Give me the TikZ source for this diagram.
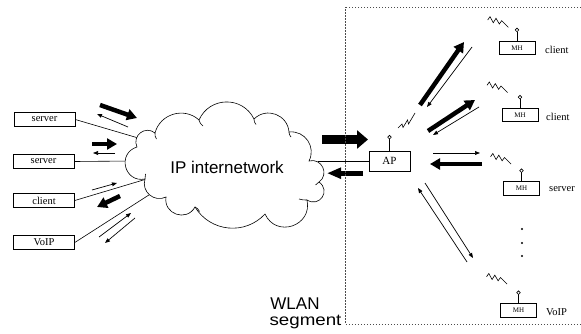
\documentclass[tikz,border=0pt]{standalone}
\usepackage{fontspec}
\setmainfont{Liberation Serif}
\newfontfamily\sansf{Liberation Sans}
\usetikzlibrary{arrows.meta}
\begin{document}
\begin{tikzpicture}[x=1pt,y=1pt,
  lbox/.style={draw,line width=0.6pt,fill=white,minimum width=61pt,minimum height=14pt,inner sep=0pt,font=\fontsize{10.5}{12}\selectfont},
  mhbox/.style={draw,line width=0.6pt,fill=white,minimum width=36pt,minimum height=13.5pt,inner sep=0pt,font=\fontsize{7}{8}\selectfont},
  apbox/.style={draw,line width=0.6pt,fill=white,minimum width=41pt,minimum height=20pt,inner sep=0pt,font=\fontsize{11}{13}\selectfont},
  rlabel/.style={anchor=base west,inner sep=0pt,font=\fontsize{10.5}{12}\selectfont},
  conn/.style={line width=0.6pt},
  thinarr/.style={line width=0.7pt,-{Triangle[length=5pt,width=3.8pt]}},
  fatarr/.style={line width=4.5pt,-{Triangle[length=10pt,width=11pt]}},
  cl/.style={line width=0.6pt},
  zz/.pic={\draw[line width=0.6pt] (0,-3.3) -- (2.3,0) -- (5.6,-6) -- (8.3,-1.6) -- (11.6,-7.3) -- (14,-4) -- (20.6,-10.6);},
]
\useasboundingbox (0,0) rectangle (581,-334);

% left boxes
\node[lbox] (s1) at (44.5,-119.5) {server};
\node[lbox] (s2) at (43.5,-161.5) {server};
\node[lbox] (c1) at (44,-200.5) {client};
\node[lbox] (v1) at (44,-242.5) {VoIP};

% connection points on cloud
\coordinate (e1) at (145,-140);
\coordinate (e2) at (133,-161);
\coordinate (e3) at (150,-178);
\coordinate (e4) at (152,-193);
\coordinate (e5) at (318,-161);

\draw[conn] (s1.east) -- (e1);
\draw[conn] (s2.east) -- (e2);
\draw[conn] (c1.east) -- (e3);
\draw[conn] (v1.east) -- (e4);

% AP
\node[apbox] (ap) at (389.5,-161) {AP};
\draw[conn] (e5) -- (ap.west);

% cloud
\draw[cl,fill=white] (137,-147)
 to[bend left=77,looseness=1.4] (155,-133)
 to[bend left=59,looseness=1.11] (199,-120)
 to[bend left=65,looseness=1.2] (254,-119)
 to[bend left=65,looseness=1.2] (289,-132)
 to[bend left=62,looseness=1.16] (309,-161)
 to[bend left=80,looseness=1.45] (319,-182)
 to[bend left=88,looseness=1.75] (307,-200)
 to[bend left=84,looseness=1.54] (265,-214)
 to[bend left=53,looseness=1.065] (195,-207)
 to[bend left=80,looseness=1.45] (166,-197)
 to[bend left=67,looseness=1.22] (145,-179)
 to[bend left=87,looseness=1.64] (137,-147) -- cycle;
% small inner strokes
\draw[cl] (155,-133) to[bend right=20] (156.5,-139);
\draw[cl] (199,-120) to[bend right=20] (203,-126);
\draw[cl] (254,-119) to[bend right=20] (256,-124.5);
\draw[cl] (289,-132) to[bend right=20] (291,-137);
\draw[cl] (319,-182) to[bend left=20] (315.5,-185);
\draw[cl] (307,-200) to[bend left=10] (299,-199);
\draw[cl] (195,-207) to[bend left=20] (199.5,-211.5);
\draw[cl] (145,-179) to[bend left=10] (145.5,-174);
\node[font=\sansf\fontsize{17}{20}\selectfont,inner sep=0pt] (ipt) at (227,-167) {IP internetwork};

% left arrows
\draw[fatarr] (100,-105) -- (137,-118);
\draw[thinarr] (128,-127) -- (97,-114);
\draw[fatarr] (92,-144) -- (117,-144);
\draw[thinarr] (115,-153) -- (93,-153);
\draw[thinarr] (92,-190) -- (117,-183);
\draw[fatarr] (120,-196) -- (97,-207);
\draw[thinarr] (99,-237) -- (131,-213);
\draw[thinarr] (135,-218) -- (105,-243);

% arrows between cloud and AP
\draw[line width=8.5pt,-{Triangle[length=11pt,width=18pt]}] (322,-139.5) -- (368,-139.5);
\draw[line width=5pt,-{Triangle[length=14pt,width=10.5pt]}] (363,-173.2) -- (327,-173.2);

% AP antenna & zigzag
\draw[line width=0.6pt] (ap.north) -- (389.5,-139);
\draw[line width=0.6pt,fill=white] (389.5,-137.2) circle (1.8);
\draw[line width=0.6pt] (398,-128) -- (402,-124) -- (403,-127.5) -- (407.5,-120) -- (408.5,-124) -- (415,-113);

% mobile hosts
\node[mhbox] (m1) at (517,-47.8) {MH};
\node[mhbox] (m2) at (520,-115) {MH};
\node[mhbox] (m3) at (521.5,-188.5) {MH};
\node[mhbox] (m4) at (518.5,-310.5) {MH};
\foreach \m in {m1,m2,m3,m4}{
  \draw[line width=0.6pt] (\m.north) -- ++(0,9);
  \draw[line width=0.6pt,fill=white] (\m.north) ++(0,10.8) circle (1.8);
}
\node[rlabel] (l1) at (545,-53.5) {client};
\node[rlabel] (l2) at (546,-120.5) {client};
\node[rlabel] (l3) at (549,-191.5) {server};
\node[rlabel] (l4) at (546,-315.5) {VoIP};
\pic at (487.7,-16.7) {zz};
\pic at (487,-82) {zz};
\pic at (490.5,-153.5) {zz};
\pic at (486.5,-273.5) {zz};

% dots
\foreach \yy in {229,243,256} \fill (522,-\yy) circle (1.2);

% WLAN arrows
\draw[fatarr] (420,-105) -- (464,-42);
\draw[thinarr] (472,-47) -- (427,-107);
\draw[fatarr] (428,-131) -- (475,-100);
\draw[thinarr] (479,-107) -- (433,-135);
\draw[thinarr] (433,-153) -- (480,-153);
\draw[fatarr] (482,-164) -- (430,-164);
\draw[thinarr] (425,-183) -- (473,-258);
\draw[thinarr] (467,-262) -- (418,-188);

% WLAN segment frame
\draw[gray!60!black,line width=0.9pt,dash pattern=on 1.5pt off 1.5pt] (581,-7.5) -- (345.7,-7.5) -- (345.7,-324) -- (581,-324);
\node[font=\sansf\fontsize{17}{20}\selectfont,anchor=base,inner sep=0pt] (w1) at (295,-309.5) {WLAN};
\node[font=\sansf\fontsize{16}{19}\selectfont,anchor=base,inner sep=0pt,xscale=1.17] (w2) at (305.5,-325.5) {segment};
\end{tikzpicture}
\end{document}
